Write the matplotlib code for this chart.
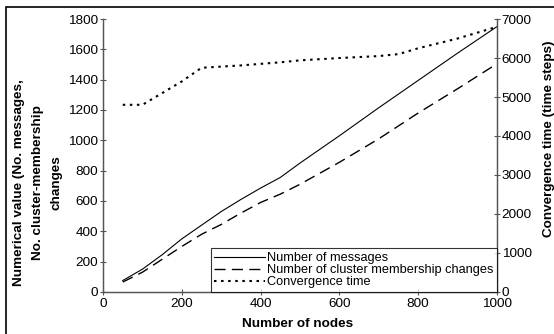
import matplotlib
matplotlib.use("Agg")
import matplotlib.pyplot as plt
from matplotlib.patches import Rectangle

plt.rcParams['font.family'] = ['Liberation Sans', 'DejaVu Sans']

nodes = [50, 100, 150, 200, 250, 300, 350, 400, 450, 500, 600, 700, 750, 800, 900, 1000]
messages = [75, 150, 245, 350, 440, 530, 610, 685, 755, 850, 1030, 1215, 1305, 1395, 1575, 1750]
membership = [65, 130, 215, 300, 380, 445, 520, 590, 645, 710, 855, 1010, 1095, 1180, 1340, 1505]
conv_time = [4800, 4800, 5100, 5400, 5750, 5780, 5810, 5850, 5890, 5940, 6000, 6050, 6100, 6250, 6500, 6800]

fig = plt.figure(figsize=(5.54, 3.34), dpi=100)
ax = fig.add_axes([0.186, 0.126, 0.711, 0.817])
ax2 = ax.twinx()

l1, = ax.plot(nodes, messages, color='black', lw=0.8, ls='-', label='Number of messages')
l2, = ax.plot(nodes, membership, color='black', lw=1.0, ls=(0, (8, 4.5)), label='Number of cluster membership changes')
l3, = ax2.plot(nodes, conv_time, color='black', lw=1.5, ls=(0, (1.2, 2.2)), label='Convergence time')

ax.set_xlim(0, 1000)
ax.set_ylim(0, 1800)
ax2.set_ylim(0, 7000)
ax.set_xticks(range(0, 1001, 200))
ax.set_yticks(range(0, 1801, 200))
ax2.set_yticks(range(0, 7001, 1000))

fs = 9.7
for a in (ax, ax2):
    a.spines['top'].set_visible(False)
    for s in a.spines.values():
        s.set_color('#555555')
        s.set_linewidth(0.9)
    a.tick_params(labelsize=fs, length=5, width=0.8, color='#555555', pad=1, direction='inout')
ax.tick_params(axis='x', pad=2)

ax.set_xlabel('Number of nodes', fontsize=fs, fontweight='bold')
ax.xaxis.set_label_coords(0.495, -0.097)
ax.set_ylabel('Numerical value (No. messages,\nNo. cluster-membership\nchanges', fontsize=fs,
              fontweight='bold', linespacing=1.75)
ax.yaxis.set_label_coords(-0.102, 0.40)
ax2.set_ylabel('Convergence time (time steps)', fontsize=fs, fontweight='bold')
ax2.yaxis.set_label_coords(1.117, 0.56)

leg = ax2.legend(handles=[l1, l2, l3], loc='lower right', bbox_to_anchor=(1.0, 0.0),
                 fontsize=9.2, frameon=True, fancybox=False, borderaxespad=0,
                 handlelength=4.0, handletextpad=0.1, borderpad=0.3, labelspacing=0.0)
leg.get_frame().set_edgecolor('black')
leg.get_frame().set_linewidth(0.8)

# outer chart frame: only left and top edges fall inside the image
fig.patches.append(Rectangle((0.011, -0.05), 1.1, 1.029, transform=fig.transFigure,
                             fill=False, edgecolor='black', lw=1.2))

fig.savefig('out.png', dpi=100)
